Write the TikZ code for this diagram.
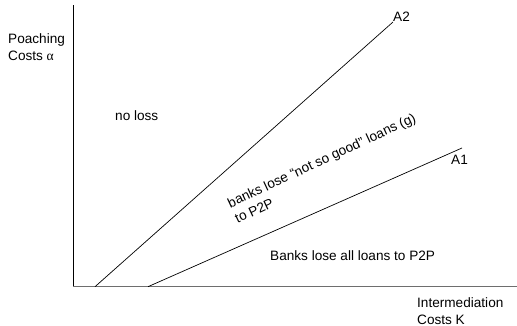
\documentclass[tikz,border=0pt]{standalone}
\usepackage{fontspec}
\setmainfont{Liberation Sans}
\newfontfamily\greekfont{Liberation Serif}
\usetikzlibrary{positioning}
\definecolor{axisgray}{RGB}{110,110,110}
\tikzset{
    % axes of the diagram
    axis/.style={line width=0.9pt},
    % boundary lines A1 and A2
    bound/.style={line width=0.7pt},
    % plain text labels (regions and axis names)
    lbl/.style={font=\fontsize{13.6}{17}\selectfont, inner sep=0pt, align=left},
}

\begin{document}
\begin{tikzpicture}[x=1pt, y=-1pt]
    \useasboundingbox (0,0) rectangle (517,326);

    % ---- axes ----
    \coordinate (O)    at (73, 286.7);
    \coordinate (ytop) at (73, 5);
    \coordinate (xend) at (517, 286.7);
    \draw[axis] (O) -- (ytop);
    \draw[axis, draw=axisgray] (O) -- (xend);

    \node[lbl, anchor=north west] (ylab) at (8, 33)    {Poaching\\Costs {\greekfont α}};
    \node[lbl, anchor=north west] (xlab) at (417, 297) {Intermediation\\Costs K};

    % ---- boundaries A2 and A1 ----
    \coordinate (a2s) at (95, 286.7);
    \coordinate (a2e) at (393, 22);
    \coordinate (a1s) at (148, 286.7);
    \coordinate (a1e) at (462, 148);
    \draw[bound] (a2s) -- (a2e);
    \draw[bound] (a1s) -- (a1e);
    \node[lbl, above right=0pt and 0pt of a2e] (A2) {A2};
    \node[lbl, below=7pt of a1e, xshift=-2.5pt] (A1) {A1};

    % ---- regions ----
    \node[lbl, anchor=north west] (noloss) at (115, 110) {no loss};
    \node[lbl, anchor=north west, rotate=25] (partial) at (226, 199)
        {banks lose “not so good” loans (g)\\to P2P};
    \node[lbl, anchor=north west] (allloss) at (270, 250) {Banks lose all loans to P2P};

\end{tikzpicture}
\end{document}
